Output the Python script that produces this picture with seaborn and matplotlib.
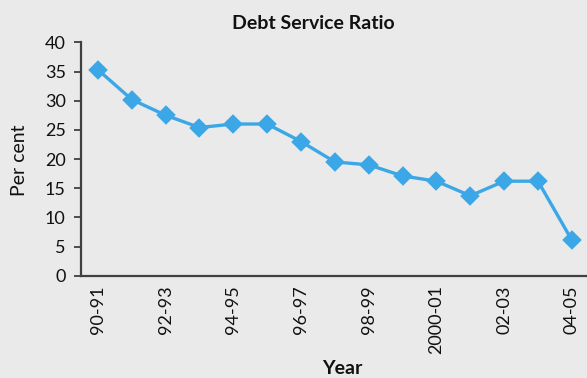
import matplotlib
matplotlib.use("Agg")
import matplotlib.pyplot as plt
import seaborn as sns
import pandas as pd
import numpy as np

years = ["90-91", "91-92", "92-93", "93-94", "94-95", "95-96", "96-97", "97-98",
         "98-99", "99-00", "2000-01", "01-02", "02-03", "03-04", "04-05"]
ratio = [35.3, 30.2, 27.5, 25.4, 26.0, 26.0, 23.0, 19.5, 19.0, 17.1, 16.2, 13.7, 16.2, 16.2, 6.1]
shown_labels = ["90-91", "92-93", "94-95", "96-97", "98-99", "2000-01", "02-03", "04-05"]

bg = "#EAEAEA"
blue = "#3BA7E6"
axis_col = "#404040"
text_col = "#111111"

sns.set_theme(style="white")
plt.rcParams["font.family"] = ["Lato", "DejaVu Sans"]

df = pd.DataFrame({"Year": years, "Per cent": ratio})

fig = plt.figure(figsize=(5.87, 3.78), dpi=100, facecolor=bg)
ax = fig.add_axes([0.138, 0.2706, 0.865, 0.6174])
ax.set_facecolor(bg)

sns.pointplot(data=df, x="Year", y="Per cent", order=years, color=blue,
              markers="D", markersize=8.5, linewidth=2.4, ax=ax)

ax.set_xlim(-0.5, len(years) - 0.5)
ax.set_ylim(0, 40)
ax.set_yticks(np.arange(0, 41, 5))

# labels on every other category, tick marks on category boundaries
label_pos = [years.index(lbl) for lbl in shown_labels]
ax.set_xticks(label_pos)
ax.set_xticklabels(shown_labels, rotation=90, fontsize=13, color=text_col)
ax.set_xticks(np.arange(-0.5, len(years), 1.0), minor=True)
ax.tick_params(axis="x", which="major", length=0, pad=7)
ax.tick_params(axis="x", which="minor", length=4, width=1.3, color=axis_col, direction="out")
ax.tick_params(axis="y", which="major", length=5, width=1.3, color=axis_col,
               direction="out", labelsize=13, labelcolor=text_col, pad=6, left=True)

for side in ["top", "right"]:
    ax.spines[side].set_visible(False)
for side in ["left", "bottom"]:
    ax.spines[side].set_color(axis_col)
    ax.spines[side].set_linewidth(1.6)

ax.set_xlabel("")
ax.set_ylabel("")
fig.text(0.034, 0.575, "Per cent", rotation=90, ha="center", va="center",
         fontsize=14, color=text_col)
fig.text(0.583, 0.01, "Year", ha="center", va="baseline", fontsize=14,
         fontweight="bold", color=text_col)
fig.text(0.533, 0.937, "Debt Service Ratio", ha="center", va="center", fontsize=14,
         fontweight="bold", color=text_col)

fig.savefig("out.png", dpi=100, facecolor=bg)
